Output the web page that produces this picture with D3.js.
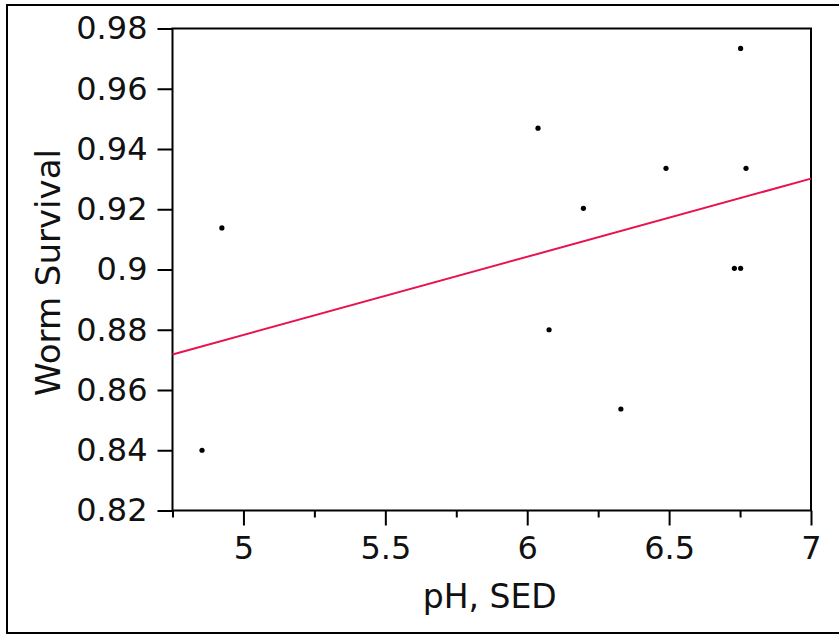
<!DOCTYPE html>
<html>
<head>
<meta charset="utf-8">
<script src="https://cdn.jsdelivr.net/npm/d3@7"></script>
<style>
  html, body { margin: 0; padding: 0; background: #fff; }
  svg { display: block; }
  text { font-family: "DejaVu Sans", sans-serif; fill: #111; }
</style>
</head>
<body>
<svg id="chart" width="839" height="637"></svg>
<script>
// Data
const phSED = [4.854, 4.924, 6.038, 6.198, 6.077, 6.330, 6.489, 6.752, 6.771, 6.730, 6.752];
const wormSurvival = [0.840, 0.9138, 0.9469, 0.9203, 0.880, 0.8537, 0.9336, 0.9734, 0.9336, 0.9004, 0.9004];
const xTicks = [5, 5.5, 6, 6.5, 7];
const xMinorTicks = [4.75, 5.25, 5.75, 6.25, 6.75];
const yTicks = [0.82, 0.84, 0.86, 0.88, 0.90, 0.92, 0.94, 0.96, 0.98];
const xDomain = [4.75, 7];
const yDomain = [0.82, 0.98];
const xTitle = "pH, SED";
const yTitle = "Worm Survival";

const svg = d3.select("#chart");
const plot = { left: 172.5, right: 811, top: 28.5, bottom: 510.5 };

const x = d3.scaleLinear().domain(xDomain).range([plot.left, plot.right]);
const y = d3.scaleLinear().domain(yDomain).range([plot.bottom, plot.top]);

// outer border (extends past the right edge)
svg.append("rect")
  .attr("x", 7).attr("y", 5).attr("width", 860).attr("height", 628)
  .attr("fill", "none").attr("stroke", "#000").attr("stroke-width", 2);

// plot frame
svg.append("rect")
  .attr("x", plot.left).attr("y", plot.top)
  .attr("width", plot.right - plot.left).attr("height", plot.bottom - plot.top)
  .attr("fill", "#fff").attr("stroke", "#000").attr("stroke-width", 2);

// regression line (least squares fit of the data)
const pts = phSED.map((v, i) => [v, wormSurvival[i]]);
const mx = d3.mean(phSED), my = d3.mean(wormSurvival);
const sxy = d3.sum(pts, p => (p[0] - mx) * (p[1] - my));
const sxx = d3.sum(pts, p => (p[0] - mx) ** 2);
const slope = sxy / sxx, intercept = my - slope * mx;
svg.append("line")
  .attr("x1", x(xDomain[0])).attr("y1", y(intercept + slope * xDomain[0]))
  .attr("x2", x(xDomain[1])).attr("y2", y(intercept + slope * xDomain[1]))
  .attr("stroke", "#e8124f").attr("stroke-width", 2);

// points
svg.append("g").selectAll("circle").data(pts).join("circle")
  .attr("cx", d => x(d[0])).attr("cy", d => y(d[1])).attr("r", 2.6)
  .attr("fill", "#000");

// x axis
const xAxis = svg.append("g").attr("transform", `translate(0,${plot.bottom})`)
  .call(d3.axisBottom(x).tickValues(xTicks).tickSize(15).tickPadding(11)
    .tickFormat(d3.format("")));
xAxis.select(".domain").remove();
xAxis.selectAll(".tick line").attr("stroke", "#000").attr("stroke-width", 2);
xAxis.selectAll(".tick text").attr("font-size", 32).attr("font-family", "DejaVu Sans").attr("fill", "#111");

const xMinor = svg.append("g").attr("transform", `translate(0,${plot.bottom})`)
  .call(d3.axisBottom(x).tickValues(xMinorTicks).tickSize(7).tickFormat(""));
xMinor.select(".domain").remove();
xMinor.selectAll(".tick line").attr("stroke", "#000").attr("stroke-width", 2);

// y axis
const yAxis = svg.append("g").attr("transform", `translate(${plot.left},0)`)
  .call(d3.axisLeft(y).tickValues(yTicks).tickSize(15).tickPadding(10)
    .tickFormat(d => d3.format("")(+d.toFixed(2))));
yAxis.select(".domain").remove();
yAxis.selectAll(".tick line").attr("stroke", "#000").attr("stroke-width", 2);
yAxis.selectAll(".tick text").attr("font-size", 32).attr("font-family", "DejaVu Sans").attr("fill", "#111");

// axis titles
svg.append("text")
  .attr("x", (plot.left + plot.right) / 2 - 2).attr("y", 608)
  .attr("text-anchor", "middle").attr("font-size", 33)
  .text(xTitle);

svg.append("text")
  .attr("transform", `translate(60,${(plot.top + plot.bottom) / 2 + 3}) rotate(-90)`)
  .attr("text-anchor", "middle").attr("font-size", 34)
  .text(yTitle);
</script>
</body>
</html>
